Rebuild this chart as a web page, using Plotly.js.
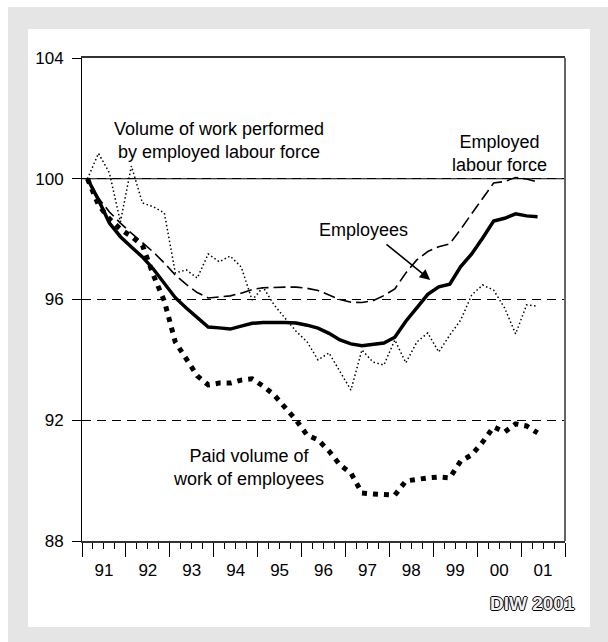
<!DOCTYPE html>
<html><head><meta charset="utf-8">
<script src="https://cdn.plot.ly/plotly-3.0.1.min.js"></script>
<style>
html,body{margin:0;padding:0;background:#fff;width:608px;height:642px;overflow:hidden}
#frame{position:absolute;left:8px;top:7px;width:600px;height:635px;background:#e5e5e5}
#chart{position:absolute;left:28px;top:29px;width:562px;height:598px;background:#fff}
</style></head><body>
<div id="frame"></div><div id="chart"></div>
<script>
// ---- data (quarterly index, 1991 Q1 = 100) ----
const years = [1991,1992,1993,1994,1995,1996,1997,1998,1999,2000,2001];
const yearLabels = ['91','92','93','94','95','96','97','98','99','00','01'];
const quartersInLastYear = 2;

const employees = [100.0, 99.30, 98.53, 98.08, 97.74, 97.41, 97.01, 96.53, 96.06, 95.72,
  95.40, 95.09, 95.06, 95.02, 95.12, 95.21, 95.24, 95.25, 95.24, 95.22,
  95.15, 95.05, 94.88, 94.66, 94.53, 94.47, 94.51, 94.56, 94.75, 95.28,
  95.72, 96.17, 96.42, 96.51, 97.09, 97.51, 98.04, 98.60, 98.69, 98.84,
  98.77, 98.74];
const labourForce = [100.0, 99.36, 98.90, 98.53, 98.20, 97.89, 97.57, 97.21, 96.81, 96.50,
  96.23, 96.05, 96.08, 96.12, 96.21, 96.33, 96.39, 96.41, 96.41, 96.41,
  96.37, 96.30, 96.15, 96.00, 95.91, 95.90, 95.96, 96.13, 96.35, 96.88,
  97.31, 97.59, 97.75, 97.84, 98.33, 98.83, 99.34, 99.86, 99.91, 100.04,
  99.99, 99.89];
const volumeWork = [100.0, 100.84, 100.19, 98.57, 100.42, 99.20, 99.07, 98.87, 96.88, 96.98,
  96.71, 97.51, 97.25, 97.44, 97.08, 95.98, 96.41, 95.82, 95.38, 94.95,
  94.60, 94.00, 94.23, 93.63, 93.00, 94.33, 93.93, 93.83, 94.66, 93.90,
  94.59, 94.89, 94.26, 94.82, 95.32, 96.15, 96.48, 96.31, 95.72, 94.86,
  95.82, 95.78];
const paidVolume = [100.0, 99.13, 98.67, 98.33, 98.09, 97.80, 96.81, 95.95, 94.59, 94.00,
  93.47, 93.17, 93.23, 93.23, 93.33, 93.37, 93.13, 92.84, 92.41, 92.01,
  91.51, 91.35, 90.98, 90.52, 90.25, 89.59, 89.56, 89.52, 89.52, 89.99,
  90.05, 90.09, 90.12, 90.09, 90.65, 90.85, 91.28, 91.78, 91.61, 91.88,
  91.81, 91.58];
const yTicks = [88, 92, 96, 100, 104];
const baseLine = [100];

// quarter positions (middle of each quarter)
const xq = [];
years.forEach((y, k) => {
  const nq = (k === years.length - 1) ? quartersInLastYear : 4;
  for (let q = 1; q <= nq; q++) xq.push(y + (q - 0.5) / 4);
});
const yearEdges = years.concat([years[years.length - 1] + 1]);
const yearMids = years.map(y => y + 0.5);

const FONT = 'Liberation Sans, Arial, sans-serif';
const xr = [years[0], years[years.length - 1] + 1];

const traces = [
  {x: xq, y: paidVolume, mode: 'lines', xaxis: 'x', yaxis: 'y',
   line: {color: '#000', width: 5, dash: '5px,6px'}, hoverinfo: 'skip'},
  {x: xq, y: volumeWork, mode: 'lines', xaxis: 'x2', yaxis: 'y',
   line: {color: '#000', width: 1.5, dash: '1.5px,2.5px'}, hoverinfo: 'skip'},
  {x: xq, y: labourForce, mode: 'lines', xaxis: 'x', yaxis: 'y',
   line: {color: '#000', width: 1.6, dash: '12px,5px'}, hoverinfo: 'skip'},
  {x: xq, y: employees, mode: 'lines', xaxis: 'x', yaxis: 'y',
   line: {color: '#000', width: 3.5}, hoverinfo: 'skip'}
];

const layout = {
  width: 562, height: 598,
  margin: {l: 54, r: 25, t: 29, b: 86},
  paper_bgcolor: '#fff', plot_bgcolor: '#fff',
  showlegend: false,
  font: {family: FONT, color: '#000', size: 17},
  xaxis: {
    range: xr, tickmode: 'array', tickvals: yearEdges, showticklabels: false,
    ticks: 'outside', ticklen: 14, tickwidth: 1, tickcolor: '#000',
    minor: {dtick: 0.25, tick0: years[0], ticks: 'outside', ticklen: 6, tickwidth: 1, tickcolor: '#000', showgrid: false},
    showline: true, linecolor: '#333', linewidth: 2, mirror: true,
    showgrid: false, zeroline: false, fixedrange: true
  },
  xaxis2: {
    overlaying: 'x', anchor: 'y', side: 'bottom',
    range: xr, tickmode: 'array', tickvals: yearMids, ticktext: yearLabels,
    ticks: '', showline: false, showgrid: false, zeroline: false,
    tickfont: {family: FONT, size: 17, color: '#000'}, ticklabelstandoff: 17
  },
  yaxis: {
    range: [yTicks[0], yTicks[yTicks.length - 1]], tickmode: 'array', tickvals: yTicks,
    ticks: 'outside', ticklen: 9, tickwidth: 1, tickcolor: '#000',
    tickfont: {family: FONT, size: 17, color: '#000'}, ticklabelstandoff: 5,
    showline: true, linecolor: '#000', linewidth: 1,
    showgrid: true, gridcolor: '#000', gridwidth: 1, griddash: '9px,6px',
    zeroline: false, fixedrange: true
  },
  shapes: baseLine.map(v => ({type: 'line', xref: 'paper', x0: 0, x1: 1, yref: 'y', y0: v, y1: v,
    line: {color: '#000', width: 1.2}, layer: 'below'})).concat([
    {type: 'line', xref: 'paper', x0: 1, x1: 1, yref: 'paper', y0: 0, y1: 1,
     line: {color: '#666', width: 2}}
  ]),
  annotations: [
    {xref: 'x', yref: 'y', x: 1994.12, y: 101.28, text: 'Volume of work performed<br>by employed labour force',
     showarrow: false, xanchor: 'center', yanchor: 'middle', font: {family: FONT, size: 18, color: '#000'}},
    {xref: 'x', yref: 'y', x: 2000.5, y: 100.85, text: 'Employed<br>labour force',
     showarrow: false, xanchor: 'center', yanchor: 'middle', font: {family: FONT, size: 18, color: '#000'}},
    {xref: 'x', yref: 'y', x: 1997.40, y: 98.30, text: 'Employees',
     showarrow: false, xanchor: 'center', yanchor: 'middle', font: {family: FONT, size: 18, color: '#000'}},
    {xref: 'x', yref: 'y', x: 1994.80, y: 90.45, text: 'Paid volume of<br>work of employees',
     showarrow: false, xanchor: 'center', yanchor: 'middle', font: {family: FONT, size: 18, color: '#000'}},
    {xref: 'x', yref: 'y', x: 1998.93, y: 96.65, axref: 'x', ayref: 'y', ax: 1997.90, ay: 97.87,
     text: '', showarrow: true, arrowhead: 2, arrowsize: 1.3, arrowwidth: 1.6, arrowcolor: '#000', standoff: 0},
    {xref: 'paper', yref: 'paper', x: 1.025, y: -0.130, text: 'DIW 2001',
     showarrow: false, xanchor: 'right', yanchor: 'middle',
     font: {family: FONT, size: 19, weight: 'bold', color: '#f2f2f2',
            shadow: '1px 0 0 #000, -1px 0 0 #000, 0 1px 0 #000, 0 -1px 0 #000'}}
  ]
};

Plotly.newPlot('chart', traces, layout, {staticPlot: true, displayModeBar: false});
</script>
</body></html>
